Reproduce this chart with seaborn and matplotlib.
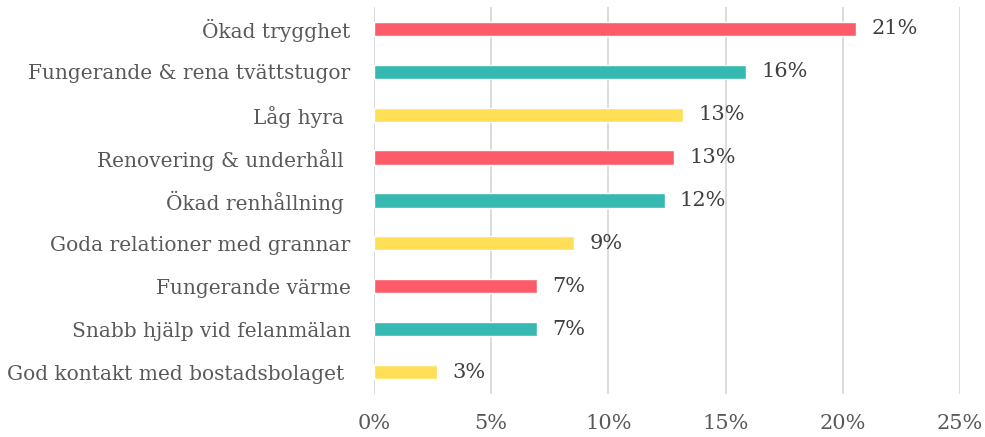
import pandas as pd
import seaborn as sns
import matplotlib.pyplot as plt
from matplotlib.ticker import PercentFormatter

# data
kategorier = ['Ökad trygghet', 'Fungerande & rena tvättstugor', 'Låg hyra ',
              'Renovering & underhåll ', 'Ökad renhållning ',
              'Goda relationer med grannar', 'Fungerande värme',
              'Snabb hjälp vid felanmälan', 'God kontakt med bostadsbolaget ']
andel = [0.2056, 0.1587, 0.1318, 0.128, 0.124, 0.0853, 0.0695, 0.0695, 0.027]
etiketter = ['21%', '16%', '13%', '13%', '12%', '9%', '7%', '7%', '3%']

farger = ['#FE5B68', '#35B9B0', '#FEDF57'] * 3

df = pd.DataFrame({'kategori': kategorier, 'andel': andel})

sns.set_style('white')
plt.rcParams['font.family'] = ['DejaVu Serif']

fig = plt.figure(figsize=(9.85, 4.37), dpi=100)
ax = fig.add_axes([0.3797, 0.0995, 0.5949, 0.8835])

sns.barplot(data=df, y='kategori', x='andel', hue='kategori', palette=farger,
            width=0.33, orient='h', legend=False, ax=ax, saturation=1)

ax.set_xlim(0, 0.25)
ax.set_ylim(8.5, -0.5)
ax.set_xticks([0, 0.05, 0.10, 0.15, 0.20, 0.25])
ax.xaxis.set_major_formatter(PercentFormatter(1.0, decimals=0))
ax.grid(axis='x', color='#D9D9D9', linewidth=1.3)
ax.set_axisbelow(True)
for s in ax.spines.values():
    s.set_visible(False)
ax.set_xlabel('')
ax.set_ylabel('')
ax.tick_params(axis='x', length=0, pad=15, labelsize=15, labelcolor='#595959')
ax.tick_params(axis='y', length=0, pad=17, labelsize=14.5, labelcolor='#595959')

# en container per kategori (hue)
for c, lab in zip(ax.containers, etiketter):
    ax.bar_label(c, labels=[lab], padding=11, fontsize=15, color='#404040')

fig.savefig('out.png', dpi=100)
